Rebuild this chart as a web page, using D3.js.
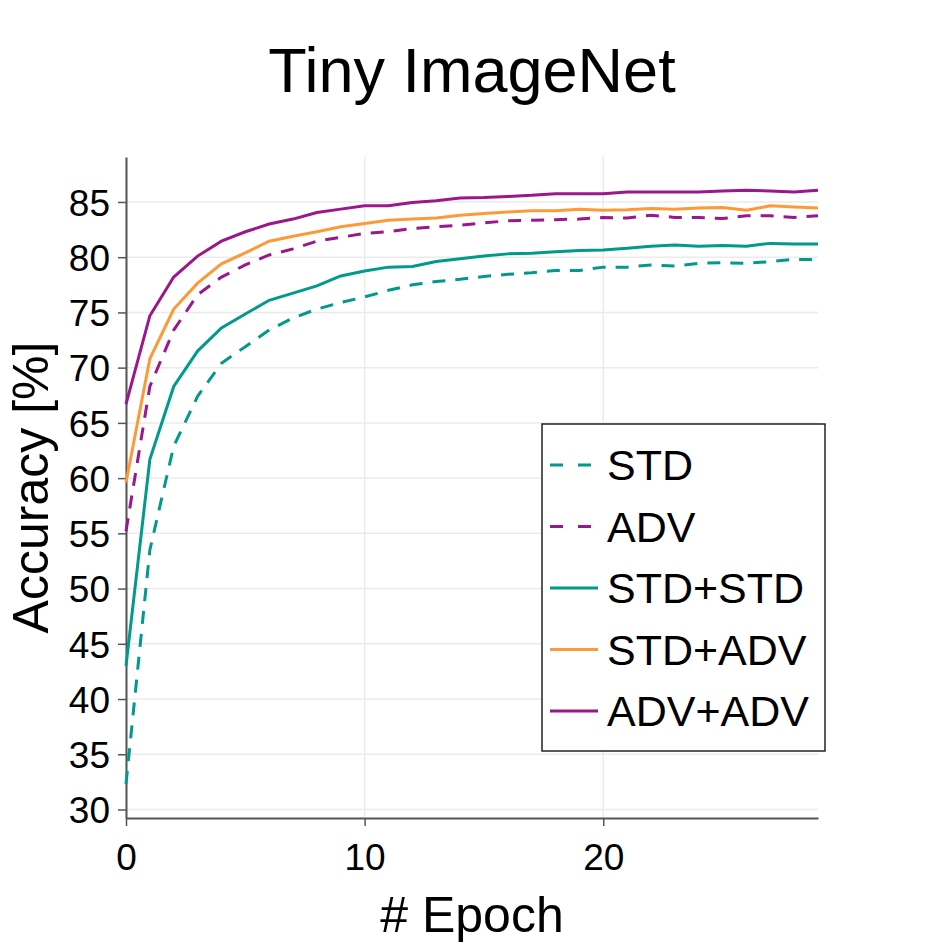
<!DOCTYPE html>
<html>
<head>
<meta charset="utf-8">
<script src="https://cdn.jsdelivr.net/npm/d3@7"></script>
<style>
  body { margin: 0; background: #fff; }
  text { font-family: "Liberation Sans", Arial, sans-serif; }
</style>
</head>
<body>
<div class="chart"></div>
<script>
var width = 952;
var height = 952;

// data, one value per epoch (0..29)
var epochs = d3.range(0, 30);
var std = [32.3, 53.5, 62.9, 67.4, 70.4, 71.9, 73.4, 74.5, 75.3, 75.9,
           76.4, 77.0, 77.5, 77.8, 78.0, 78.25, 78.45, 78.6, 78.8, 78.8,
           79.1, 79.1, 79.3, 79.2, 79.45, 79.5, 79.45, 79.6, 79.8, 79.8];
var adv = [55.2, 68.3, 73.4, 76.6, 78.2, 79.3, 80.2, 80.75, 81.45, 81.8,
           82.15, 82.3, 82.6, 82.75, 82.9, 83.1, 83.3, 83.35, 83.4, 83.45,
           83.6, 83.55, 83.8, 83.6, 83.6, 83.5, 83.75, 83.75, 83.6, 83.75];
var stdStd = [43.0, 61.7, 68.3, 71.5, 73.6, 74.85, 76.1, 76.75, 77.4, 78.3,
              78.75, 79.1, 79.15, 79.6, 79.85, 80.1, 80.3, 80.35, 80.5, 80.6,
              80.65, 80.8, 81.0, 81.1, 81.0, 81.05, 81.0, 81.25, 81.2, 81.2];
var stdAdv = [59.6, 70.8, 75.3, 77.65, 79.4, 80.4, 81.45, 81.9, 82.3, 82.75,
              83.05, 83.35, 83.45, 83.55, 83.8, 83.95, 84.1, 84.2, 84.2, 84.35,
              84.25, 84.3, 84.4, 84.35, 84.45, 84.5, 84.25, 84.65, 84.55, 84.45];
var advAdv = [66.7, 74.7, 78.2, 80.1, 81.45, 82.3, 83.0, 83.45, 84.05, 84.35,
              84.65, 84.65, 84.95, 85.1, 85.35, 85.4, 85.5, 85.6, 85.75, 85.75,
              85.75, 85.9, 85.9, 85.9, 85.9, 86.0, 86.05, 86.0, 85.9, 86.05];

var seriesNames = ["STD", "ADV", "STD+STD", "STD+ADV", "ADV+ADV"];
var seriesValues = [std, adv, stdStd, stdAdv, advAdv];
var seriesColors = ["#009a8a", "#9a178c", "#009a8a", "#fd9a38", "#9a178c"];
var seriesDashed = [true, true, false, false, false];

var xTicks = [0, 10, 20];
var yTicks = d3.range(30, 86, 5);

var plotLeft = 126, plotRight = 818, plotTop = 157, plotBottom = 818;

var x = d3.scaleLinear().domain([0, 29]).range([plotLeft, plotRight]);
var y = d3.scaleLinear().domain([29.23, 89.07]).range([plotBottom, plotTop]);

var svg = d3.select(".chart")
    .append("svg")
    .attr("width", width)
    .attr("height", height);

// grid
svg.append("g")
    .selectAll("line")
    .data(xTicks)
    .enter().append("line")
    .attr("x1", function(d) { return x(d); })
    .attr("x2", function(d) { return x(d); })
    .attr("y1", plotTop)
    .attr("y2", plotBottom)
    .attr("stroke", "#ebebeb")
    .attr("stroke-width", 1.5);

svg.append("g")
    .selectAll("line")
    .data(yTicks)
    .enter().append("line")
    .attr("x1", plotLeft)
    .attr("x2", plotRight)
    .attr("y1", function(d) { return y(d); })
    .attr("y2", function(d) { return y(d); })
    .attr("stroke", "#ebebeb")
    .attr("stroke-width", 1.5);

// axes
var xAxis = svg.append("g")
    .attr("transform", "translate(0," + plotBottom + ")")
    .call(d3.axisBottom(x).tickValues(xTicks).tickSize(8).tickSizeOuter(0).tickPadding(18));

var yAxis = svg.append("g")
    .attr("transform", "translate(" + plotLeft + ",0)")
    .call(d3.axisLeft(y).tickValues(yTicks).tickSize(8).tickSizeOuter(0).tickPadding(8));

[xAxis, yAxis].forEach(function(ax) {
    ax.select(".domain").attr("stroke", "#555").attr("stroke-width", 2);
    ax.selectAll(".tick line").attr("stroke", "#555").attr("stroke-width", 1.5);
    ax.selectAll(".tick text")
        .attr("fill", "#000")
        .style("font-size", "37px")
        .style("font-family", "Liberation Sans, Arial, sans-serif");
});
yAxis.selectAll(".tick text").attr("dy", "0.36em");

// lines
var line = d3.line()
    .x(function(d, i) { return x(epochs[i]); })
    .y(function(d) { return y(d); });

svg.append("g")
    .selectAll("path")
    .data(seriesValues)
    .enter().append("path")
    .attr("d", line)
    .attr("fill", "none")
    .attr("stroke", function(d, i) { return seriesColors[i]; })
    .attr("stroke-width", 3)
    .attr("stroke-dasharray", function(d, i) { return seriesDashed[i] ? "13,10" : null; });

// titles
svg.append("text")
    .attr("x", (plotLeft + plotRight) / 2)
    .attr("y", 92)
    .attr("text-anchor", "middle")
    .style("font-size", "63px")
    .text("Tiny ImageNet");

svg.append("text")
    .attr("x", (plotLeft + plotRight) / 2)
    .attr("y", 932)
    .attr("text-anchor", "middle")
    .style("font-size", "50px")
    .text("# Epoch");

svg.append("text")
    .attr("transform", "translate(48," + ((plotTop + plotBottom) / 2) + ") rotate(-90)")
    .attr("text-anchor", "middle")
    .style("font-size", "50px")
    .text("Accuracy [%]");

// legend
var legend = svg.append("g");
legend.append("rect")
    .attr("x", 542)
    .attr("y", 424)
    .attr("width", 283)
    .attr("height", 327)
    .attr("fill", "#fff")
    .attr("stroke", "#222")
    .attr("stroke-width", 1.5);

var rows = legend.selectAll("g.row")
    .data(seriesNames)
    .enter().append("g")
    .attr("transform", function(d, i) { return "translate(0," + (465 + i * 61.5) + ")"; });

rows.append("line")
    .attr("x1", 550)
    .attr("x2", 598)
    .attr("stroke", function(d, i) { return seriesColors[i]; })
    .attr("stroke-width", 3)
    .attr("stroke-dasharray", function(d, i) { return seriesDashed[i] ? "13,15" : null; });

rows.append("text")
    .attr("x", 607)
    .attr("dy", "0.36em")
    .style("font-size", "43px")
    .text(function(d) { return d; });
</script>
</body>
</html>
